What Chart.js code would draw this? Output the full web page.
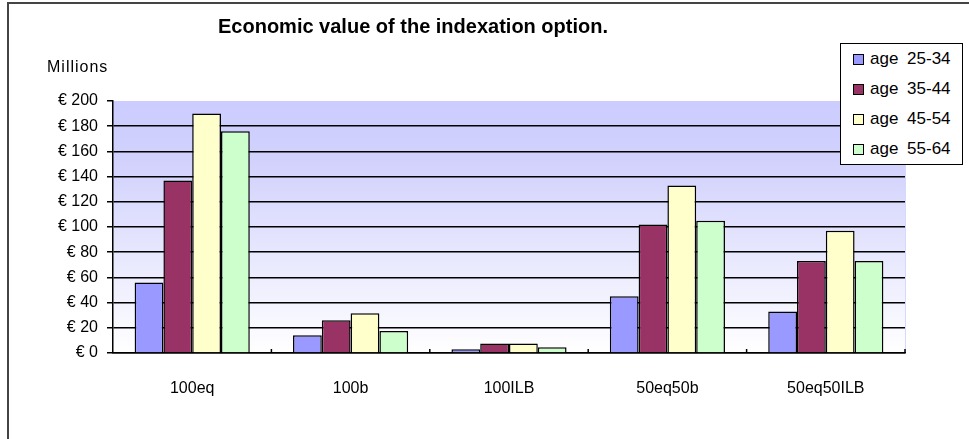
<!DOCTYPE html>
<html>
<head>
<meta charset="utf-8">
<script src="https://cdn.jsdelivr.net/npm/chart.js@4"></script>
<style>
  body { margin: 0; background: #fff; font-family: "Liberation Sans", Arial, sans-serif; }
  #wrap { position: relative; width: 969px; height: 439px; overflow: hidden; }
  #frame { position: absolute; left: 7px; top: 2px; width: 980px; height: 460px;
           border-left: 2px solid #444; border-top: 2px solid #444; }
  #title { position: absolute; left: 213px; width: 400px; top: 14px; line-height: 24px;
           text-align: center; font-weight: bold; font-size: 20px; color: #000; }
  #unit { position: absolute; left: 47px; top: 57px; line-height: 20px; font-size: 16px;
          letter-spacing: 1px; color: #000; }
  #legend { position: absolute; left: 840px; top: 43px; width: 121px; height: 120px;
            border: 1px solid #000; background: #fff; }
  .item { height: 30px; display: flex; align-items: center; font-size: 17px; word-spacing: 4px; }
  .sw { width: 9px; height: 9px; border: 1px solid #000; margin-left: 12px; margin-right: 6px; }
  canvas { position: absolute; left: 0; top: 0; }
</style>
</head>
<body>
<div id="wrap">
  <canvas id="chart" width="969" height="439"></canvas>
  <div id="frame"></div>
  <div id="title">Economic value of the indexation option.</div>
  <div id="unit">Millions</div>
  <div id="legend"></div>
</div>
<script>
const categories = ['100eq', '100b', '100ILB', '50eq50b', '50eq50ILB'];
const seriesNames = ['age 25-34', 'age 35-44', 'age 45-54', 'age 55-64'];
const age2534 = [56, 14, 3, 45, 33];
const age3544 = [137, 26, 7.5, 102, 73];
const age4554 = [190, 31.5, 7.5, 133, 97];
const age5564 = [176, 17.5, 4.5, 105, 73];
const seriesColors = ['#9999FF', '#993366', '#FFFFCC', '#CCFFCC'];
const yMin = 0, yMax = 200, yStep = 20;

Chart.defaults.font.family = '"Liberation Sans", Arial, sans-serif';
Chart.defaults.color = '#000';

// plot background + small category ticks
const plotDeco = {
    id: 'plotDeco',
    beforeDraw(chart) {
        const a = chart.chartArea;
        const ctx = chart.ctx;
        const g = ctx.createLinearGradient(0, a.top, 0, a.bottom);
        g.addColorStop(0, '#CCCCFF');
        g.addColorStop(0.25, '#D2D2FD');
        g.addColorStop(1, '#FFFFFF');
        ctx.save();
        ctx.fillStyle = g;
        ctx.fillRect(a.left, a.top, a.right - a.left, a.bottom - a.top);
        ctx.strokeStyle = '#D8D8FF';
        ctx.lineWidth = 1;
        ctx.beginPath();
        ctx.moveTo(a.right + 0.5, a.top);
        ctx.lineTo(a.right + 0.5, a.bottom);
        ctx.stroke();
        ctx.restore();
    },
    afterDatasetsDraw(chart) {
        const x = chart.scales.x;
        const a = chart.chartArea;
        const ctx = chart.ctx;
        ctx.save();
        ctx.strokeStyle = '#000';
        ctx.lineWidth = 1.5;
        for (let i = 1; i <= categories.length; i++) {
            const px = i < categories.length
                ? (x.getPixelForTick(i - 1) + x.getPixelForTick(i)) / 2
                : a.right;
            ctx.beginPath();
            ctx.moveTo(px, a.bottom);
            ctx.lineTo(px, a.bottom - 4);
            ctx.stroke();
        }
        ctx.restore();
    }
};

const datasets = [age2534, age3544, age4554, age5564].map((vals, i) => ({
    label: seriesNames[i],
    data: vals,
    backgroundColor: seriesColors[i],
    borderColor: '#000',
    borderWidth: 1.5,
    categoryPercentage: 0.727,
    barPercentage: 1.0
}));

new Chart(document.getElementById('chart'), {
    type: 'bar',
    data: { labels: categories, datasets: datasets },
    options: {
        responsive: false,
        animation: false,
        devicePixelRatio: 1,
        layout: { padding: { left: 0, top: 101, right: 64, bottom: 0 } },
        plugins: {
            legend: { display: false },
            title: { display: false },
            tooltip: { enabled: false }
        },
        scales: {
            x: {
                grid: { display: false },
                border: { display: true, color: '#000', width: 1.5 },
                ticks: { font: { size: 16 }, padding: 18, maxRotation: 0 },
                afterFit(scale) { scale.height = 86; }
            },
            y: {
                min: yMin,
                max: yMax,
                ticks: {
                    stepSize: yStep,
                    font: { size: 16 },
                    padding: 9,
                    callback: v => '€ ' + v
                },
                grid: {
                    color: c => (c.tick && c.tick.value === yMax) ? 'rgba(0,0,0,0)' : '#000',
                    tickColor: '#000',
                    lineWidth: 1.5,
                    tickLength: 6
                },
                border: { display: true, color: '#000', width: 1.5 },
                afterFit(scale) { scale.width = 113; }
            }
        }
    },
    plugins: [plotDeco]
});

// legend
const leg = document.getElementById('legend');
seriesNames.forEach((name, i) => {
    const row = document.createElement('div');
    row.className = 'item';
    const sw = document.createElement('span');
    sw.className = 'sw';
    sw.style.background = seriesColors[i];
    row.appendChild(sw);
    row.appendChild(document.createTextNode(name));
    leg.appendChild(row);
});
</script>
</body>
</html>
